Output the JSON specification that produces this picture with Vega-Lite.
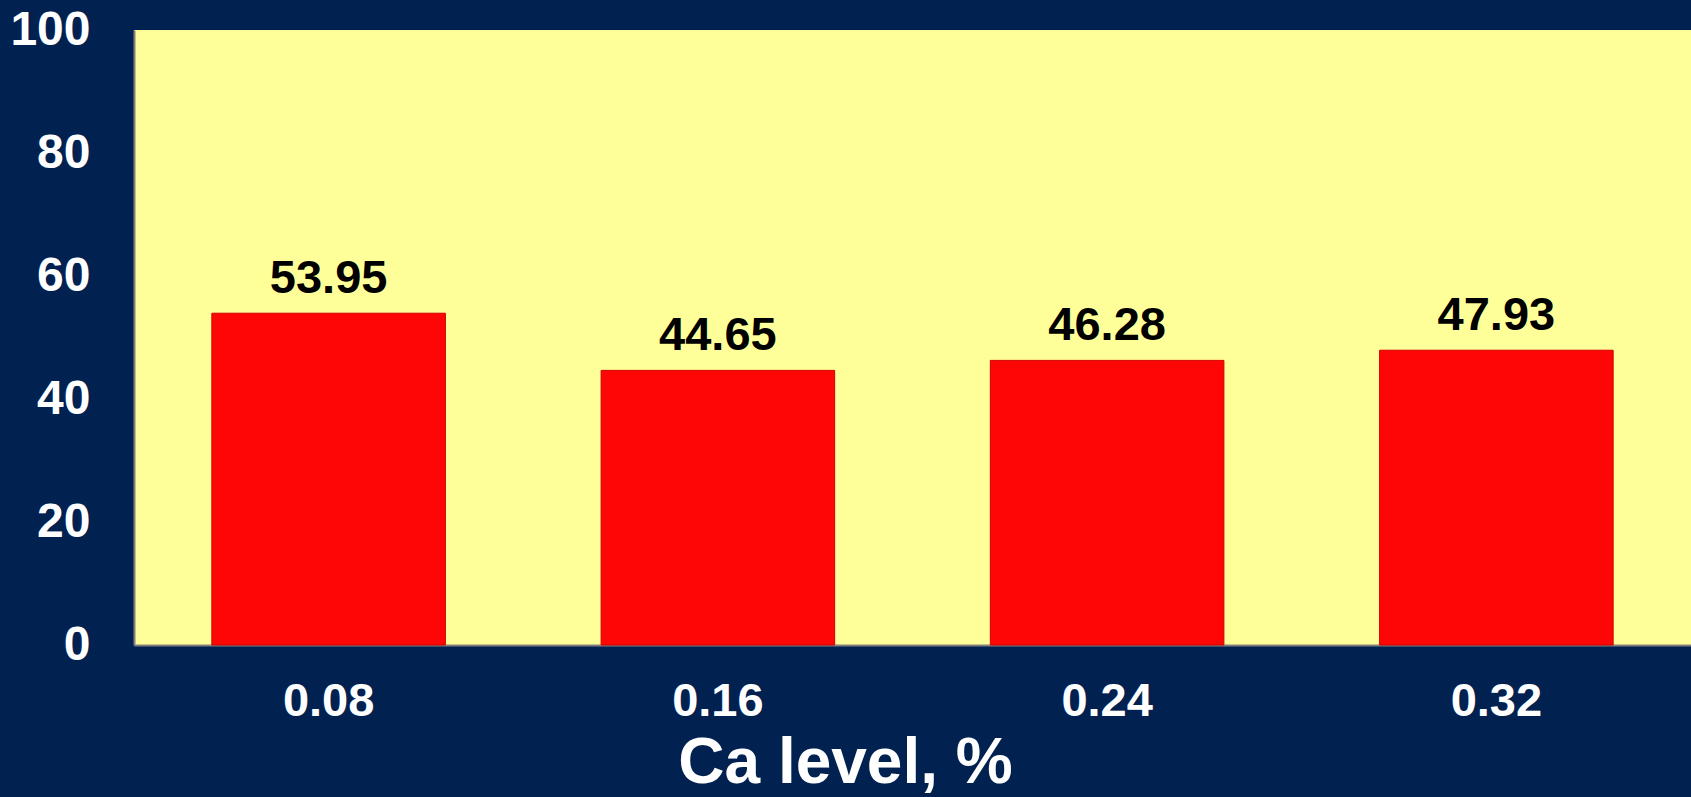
{
  "$schema": "https://vega.github.io/schema/vega-lite/v6.json",
  "autosize": "none",
  "width": 1557,
  "height": 615,
  "padding": {"left": 134, "top": 30, "right": 0, "bottom": 152},
  "background": "#012151",
  "config": {
    "font": "Liberation Sans",
    "view": {"fill": "#FFFF99", "stroke": null}
  },
  "data": {
    "values": [
      {"ca": "0.08", "value": 53.95},
      {"ca": "0.16", "value": 44.65},
      {"ca": "0.24", "value": 46.28},
      {"ca": "0.32", "value": 47.93}
    ]
  },
  "encoding": {
    "x": {
      "field": "ca",
      "type": "ordinal",
      "sort": null,
      "scale": {"paddingInner": 0.4, "paddingOuter": 0.2},
      "axis": {
        "title": "Ca level, %",
        "titleFont": "Liberation Sans",
        "titleFontSize": 64,
        "titleFontWeight": "bold",
        "titleColor": "#FFFFFF",
        "titleBaseline": "alphabetic",
        "titleAlign": "center",
        "titleX": 711,
        "titleY": 137,
        "labelAngle": 0,
        "labelFontSize": 47,
        "labelFontWeight": "bold",
        "labelColor": "#FFFFFF",
        "labelPadding": 33,
        "ticks": false,
        "domainColor": "#808080",
        "domainWidth": 2,
        "grid": false
      }
    },
    "y": {
      "field": "value",
      "type": "quantitative",
      "scale": {"domain": [0, 100], "nice": false},
      "axis": {
        "title": null,
        "values": [0, 20, 40, 60, 80, 100],
        "labelFontSize": 48,
        "labelFontWeight": "bold",
        "labelColor": "#FFFFFF",
        "labelPadding": 44,
        "ticks": false,
        "domainColor": "#808080",
        "domainWidth": 2,
        "grid": false
      }
    }
  },
  "layer": [
    {
      "mark": {"type": "bar", "color": "#FF0606", "stroke": "#D00000", "strokeWidth": 1}
    },
    {
      "mark": {
        "type": "text",
        "baseline": "alphabetic",
        "dy": -20,
        "fontSize": 47,
        "fontWeight": "bold",
        "color": "#000000"
      },
      "encoding": {
        "text": {"field": "value", "type": "quantitative", "format": ".2f"}
      }
    }
  ]
}
